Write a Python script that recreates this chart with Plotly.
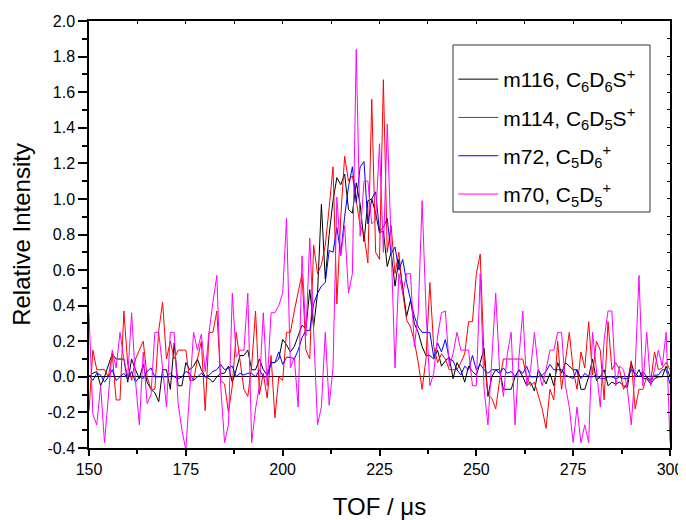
import plotly.graph_objects as go

tof = list(range(150, 301))

m116 = [
    0.00, 0.02, 0.03, -0.05, 0.00, 0.06, 0.13, 0.10, 0.10, 0.10,
    -0.03, 0.10, 0.04, -0.01, 0.07, -0.03, -0.07, -0.09, -0.14, 0.04,
    0.04, -0.07, 0.19, -0.05, -0.05, 0.08, 0.04, 0.06, 0.10, 0.04,
    0.00, -0.01, -0.03, 0.00, 0.02, 0.02, 0.06, -0.03, 0.04, 0.12,
    0.12, 0.15, 0.04, 0.04, 0.10, 0.04, 0.01, 0.08, 0.08, 0.10,
    0.21, 0.18, 0.14, 0.17, 0.23, 0.29, 0.27, 0.49, 0.28, 0.47,
    0.97, 0.55, 0.80, 0.99, 1.12, 1.08, 1.14, 0.94, 0.92, 1.09,
    0.97, 0.76, 0.99, 1.00, 0.92, 0.81, 0.82, 0.62, 0.70, 0.51,
    0.66, 0.51, 0.34, 0.43, 0.30, 0.25, 0.17, 0.12, 0.12, 0.10,
    0.15, 0.06, 0.09, 0.11, -0.01, 0.08, 0.04, -0.03, 0.06, 0.03,
    0.01, 0.08, 0.16, -0.11, 0.00, 0.04, 0.04, -0.07, -0.07, -0.07,
    0.00, 0.04, 0.00, -0.05, -0.03, -0.08, 0.04, 0.00, -0.04, 0.02,
    -0.05, 0.08, 0.02, 0.08, 0.06, 0.04, 0.04, -0.07, -0.07, 0.00,
    0.10, -0.02, 0.00, 0.04, -0.05, -0.03, -0.04, -0.03, -0.05, -0.06,
    0.08, 0.00, 0.04, -0.01, -0.01, -0.04, -0.01, 0.00, 0.00, 0.06,
    0.00,
]

m114 = [
    -0.19, 0.15, 0.04, 0.04, 0.04, 0.00, 0.13, -0.13, -0.13, 0.37,
    0.07, -0.02, 0.10, 0.15, 0.20, 0.00, -0.07, -0.07, 0.26, 0.42,
    0.10, 0.20, 0.10, 0.15, 0.15, 0.15, -0.02, -0.02, 0.10, 0.20,
    -0.19, 0.25, 0.25, 0.37, -0.02, -0.04, -0.20, -0.05, 0.25, 0.08,
    -0.07, -0.11, 0.06, 0.37, -0.10, 0.02, -0.12, 0.12, -0.23, 0.00,
    -0.02, 0.25, 0.25, 0.37, 0.47, 0.58, 0.15, 0.10, 0.74, 0.58,
    0.63, 0.74, 0.95, 1.18, 0.41, 0.90, 1.24, 1.10, 1.13, 1.00,
    0.85, 0.80, 0.64, 1.56, 0.70, 0.66, 1.67, 0.70, 0.85, 0.58,
    0.70, 0.47, 0.32, 0.28, 0.20, 0.08, -0.07, 0.10, 0.53, 0.17,
    0.08, 0.13, 0.10, 0.04, 0.04, 0.04, 0.08, 0.13, 0.31, 0.31,
    0.58, 0.69, 0.10, -0.10, -0.12, -0.18, -0.02, 0.10, 0.10, 0.10,
    0.10, 0.10, 0.10, 0.00, -0.05, -0.03, -0.11, -0.18, -0.29, -0.07,
    -0.13, 0.20, -0.07, 0.10, 0.25, 0.04, -0.07, 0.14, 0.05, 0.31,
    0.01, 0.20, 0.15, -0.13, 0.31, 0.04, 0.08, 0.04, -0.07, -0.03,
    0.09, -0.18, -0.07, -0.07, 0.00, -0.03, 0.14, 0.04, 0.05, 0.08,
    0.04,
]

m72 = [
    0.01, -0.02, 0.02, 0.01, -0.03, 0.00, 0.04, -0.02, 0.00, 0.02,
    -0.01, 0.03, -0.03, 0.00, -0.01, 0.03, 0.05, 0.00, 0.00, 0.00,
    0.00, 0.02, 0.00, -0.01, 0.00, 0.03, 0.02, -0.02, 0.00, 0.02,
    0.00, 0.01, 0.03, 0.04, 0.07, 0.04, 0.05, 0.06, 0.00, 0.02,
    0.01, 0.02, 0.02, 0.00, 0.04, 0.00, 0.00, 0.08, 0.08, 0.14,
    0.07, 0.11, 0.11, 0.10, 0.15, 0.22, 0.26, 0.26, 0.41, 0.47,
    0.51, 0.53, 0.71, 0.70, 0.84, 0.69, 0.90, 1.07, 1.18, 0.98,
    1.18, 1.21, 0.86, 1.00, 1.04, 0.82, 0.84, 0.89, 0.69, 0.73,
    0.60, 0.66, 0.53, 0.43, 0.34, 0.28, 0.25, 0.25, 0.25, 0.11,
    0.19, 0.14, 0.21, 0.10, 0.09, 0.04, 0.01, 0.06, 0.04, 0.12,
    0.04, 0.07, 0.04, 0.02, 0.04, 0.04, 0.02, 0.05, 0.02, 0.03,
    0.00, 0.04, 0.02, 0.06, 0.00, 0.00, 0.00, 0.01, 0.03, 0.07,
    0.04, 0.04, 0.04, 0.01, 0.00, -0.01, 0.04, -0.01, 0.02, 0.00,
    0.00, 0.01, -0.01, -0.01, 0.00, 0.00, -0.01, 0.00, -0.01, -0.01,
    0.04, 0.02, 0.00, 0.03, 0.00, -0.02, 0.01, 0.01, 0.04, 0.04,
    -0.04,
]

m70 = [
    0.36, -0.21, -0.27, -0.05, -0.37, -0.10, 0.15, 0.05, 0.25, 0.10,
    0.00, 0.36, -0.02, -0.27, 0.14, -0.15, -0.10, 0.25, 0.25, 0.05,
    -0.17, 0.25, 0.25, -0.15, -0.30, -0.41, -0.07, 0.25, 0.15, 0.24,
    0.03, 0.25, 0.42, 0.57, -0.05, -0.37, -0.27, 0.47, 0.11, 0.15,
    0.15, 0.47, -0.37, -0.18, -0.05, 0.36, -0.05, 0.36, 0.36, 0.40,
    0.47, 0.89, 0.05, 0.11, -0.17, 0.68, 0.23, 0.78, 0.26, -0.27,
    -0.17, 0.25, -0.16, 0.05, 1.01, 0.68, 0.85, 0.47, 0.58, 1.84,
    0.79, 1.10, 1.10, 0.86, 0.88, 1.31, 0.70, 1.42, 0.75, 0.05,
    0.58, 0.47, 0.58, 0.58, 0.17, 0.36, 0.99, 0.38, -0.05, 0.02,
    0.23, 0.36, 0.37, 0.06, 0.13, 0.25, 0.15, 0.15, 0.15, -0.05,
    -0.05, 0.58, -0.07, -0.27, 0.11, 0.47, 0.04, -0.11, 0.13, 0.25,
    -0.27, 0.11, 0.37, -0.05, 0.04, 0.25, 0.04, -0.05, 0.04, 0.15,
    0.15, 0.25, 0.25, -0.05, -0.17, -0.37, -0.17, -0.37, -0.27, -0.37,
    0.25, 0.04, -0.17, 0.21, 0.37, 0.37, -0.05, 0.06, 0.04, -0.07,
    -0.27, 0.04, 0.57, -0.05, 0.25, -0.05, 0.04, 0.15, 0.06, 0.25,
    -0.37,
]

series_names = [
    "m116, C<sub>6</sub>D<sub>6</sub>S<sup>+</sup>",
    "m114, C<sub>6</sub>D<sub>5</sub>S<sup>+</sup>",
    "m72, C<sub>5</sub>D<sub>6</sub><sup>+</sup>",
    "m70, C<sub>5</sub>D<sub>5</sub><sup>+</sup>",
]
series_colors = ["#000000", "#ff0000", "#0000ff", "#ff00ff"]
series_values = [m116, m114, m72, m70]

x_ticks = [150, 175, 200, 225, 250, 275, 300]
y_ticks = [-0.4, -0.2, 0.0, 0.2, 0.4, 0.6, 0.8, 1.0, 1.2, 1.4, 1.6, 1.8, 2.0]
y_tick_text = ["-0.4", "-0.2", "0.0", "0.2", "0.4", "0.6", "0.8", "1.0",
               "1.2", "1.4", "1.6", "1.8", "2.0"]

FONT = "Liberation Sans, Arial, sans-serif"

fig = go.Figure()
for i, (name, color, vals) in enumerate(zip(series_names, series_colors, series_values)):
    fig.add_trace(go.Scatter(x=tof, y=vals, mode="lines", name=name,
                             legendgroup="g%d" % i,
                             line=dict(color=color, width=1)))

# invisible trace for mirrored top/right axes
fig.add_trace(go.Scatter(x=[tof[0]], y=[m116[0]], xaxis="x2", yaxis="y2",
                         mode="lines", showlegend=False, hoverinfo="skip",
                         line=dict(width=0)))

# legend frame
fig.add_shape(type="rect", xref="paper", yref="paper",
              x0=0.6265, x1=0.9656, y0=0.5527, y1=0.9438,
              line=dict(color="#333333", width=1), fillcolor="rgba(0,0,0,0)",
              layer="above")

# The page body adds an 8px offset, so the figure is 8px smaller than the window.
fig.update_layout(
    width=678, height=512,
    margin=dict(l=81, r=16, t=13, b=72),
    paper_bgcolor="white", plot_bgcolor="white",
    font=dict(family=FONT, size=16, color="black"),
    showlegend=True,
    legend=dict(
        x=0.627, y=0.911, xanchor="left", yanchor="top",
        bgcolor="rgba(0,0,0,0)", borderwidth=0,
        font=dict(family=FONT, size=21, color="black"),
        itemwidth=40, tracegroupgap=8, traceorder="grouped",
    ),
    xaxis=dict(
        range=[150, 300], tickvals=x_ticks, automargin=False,
        ticks="outside", ticklen=6, tickwidth=1.5, tickcolor="black",
        minor=dict(dtick=12.5, ticks="outside", ticklen=4, tickwidth=1.5, tickcolor="black"),
        showline=True, linecolor="black", linewidth=1.5,
        showgrid=False, zeroline=False,
        tickfont=dict(size=16),
        title=dict(text="TOF / μs", font=dict(size=24), standoff=24),
    ),
    yaxis=dict(
        range=[-0.4, 2.0], tickvals=y_ticks, ticktext=y_tick_text, automargin=False,
        ticks="outside", ticklen=9, tickwidth=1.5, tickcolor="black",
        minor=dict(dtick=0.1, ticks="outside", ticklen=5, tickwidth=1.5, tickcolor="black"),
        showline=True, linecolor="black", linewidth=1.5,
        showgrid=False,
        zeroline=True, zerolinecolor="black", zerolinewidth=1,
        tickfont=dict(size=16),
        title=dict(text="Relative Intensity", font=dict(size=24), standoff=10),
    ),
    xaxis2=dict(
        overlaying="x", side="top", matches="x", range=[150, 300], automargin=False,
        tickvals=x_ticks, ticks="inside", ticklen=3, tickwidth=1, tickcolor="black",
        minor=dict(dtick=12.5, ticks="inside", ticklen=3, tickwidth=1, tickcolor="black"),
        showticklabels=False, showline=True, linecolor="black", linewidth=1.5,
        showgrid=False, zeroline=False,
    ),
    yaxis2=dict(
        overlaying="y", side="right", matches="y", range=[-0.4, 2.0], automargin=False,
        tickvals=y_ticks, ticks="inside", ticklen=3, tickwidth=1, tickcolor="black",
        minor=dict(dtick=0.1, ticks="inside", ticklen=3, tickwidth=1, tickcolor="black"),
        showticklabels=False, showline=True, linecolor="black", linewidth=1.5,
        showgrid=False, zeroline=False,
    ),
)

fig.write_html("out.html")
